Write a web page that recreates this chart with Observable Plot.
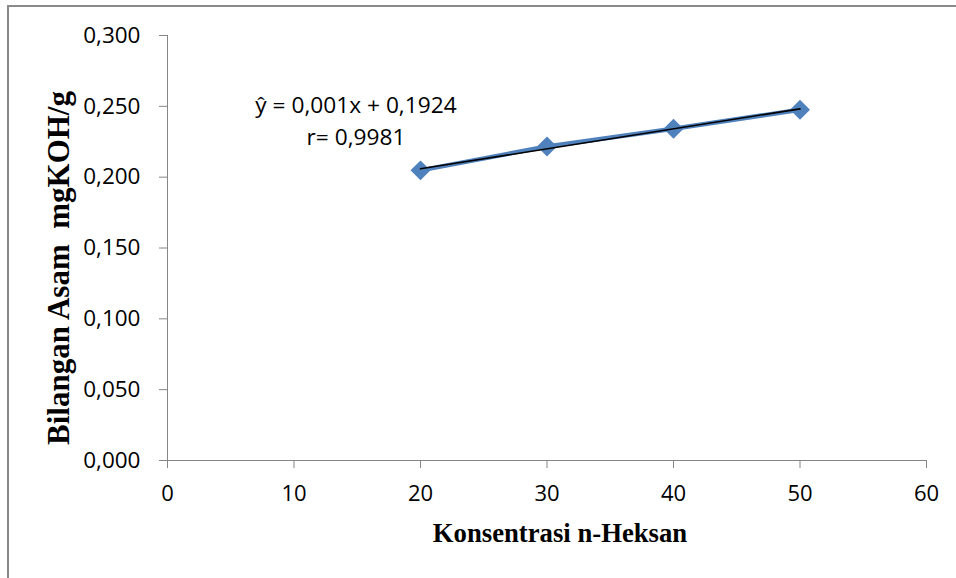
<!DOCTYPE html>
<html>
<head>
<meta charset="utf-8">
<script src="https://cdn.jsdelivr.net/npm/d3@7"></script>
<script src="https://cdn.jsdelivr.net/npm/@observablehq/plot@0.6"></script>
<style>
  html, body { margin: 0; padding: 0; background: #fff; }
  #wrap { position: relative; width: 956px; height: 578px; overflow: hidden; }
  #border { position: absolute; left: 7px; top: 5px; width: 1000px; height: 1000px;
            border-left: 2px solid #8a8a8a; border-top: 2px solid #8a8a8a; }
  #chart { position: absolute; left: 0; top: 0; }
</style>
</head>
<body>
<div id="wrap"><div id="border"></div><div id="chart"></div></div>
<script>
// Data
const concentrations = [20, 30, 40, 50];
const acidValues = [0.2048, 0.2217, 0.2342, 0.2476];
const xTicks = [0, 10, 20, 30, 40, 50, 60];
const yTicks = [0, 0.05, 0.10, 0.15, 0.20, 0.25, 0.30];
const xLabel = "Konsentrasi n-Heksan";
const yLabel = "Bilangan Asam  mgKOH/g";
const equationText = "ŷ = 0,001x + 0,1924\nr= 0,9981";
const equationAt = {x: 14.9, y: 0.2412};

const data = concentrations.map((x, i) => ({x, y: acidValues[i]}));
const fmtY = d => d3.format(".3f")(d).replace(".", ",");
const tickFont = "'Open Sans', 'Noto Sans', sans-serif";
const labelFont = "'Liberation Serif', 'DejaVu Serif', serif";
const gray = "#868686";
const blue = "#4F81BD";

const chart = Plot.plot({
  width: 956,
  height: 578,
  marginLeft: 167,
  marginRight: 30,
  marginTop: 35,
  marginBottom: 118,
  style: {color: "black", background: "transparent", fontFamily: tickFont},
  x: {domain: [0, 60]},
  y: {domain: [0, 0.3]},
  marks: [
    Plot.ruleX([0], {stroke: gray, strokeWidth: 1}),
    Plot.ruleY([0], {stroke: gray, strokeWidth: 1}),
    Plot.axisX(xTicks, {tickSize: 8, tickPadding: 17, stroke: gray, fill: "black",
      fontSize: 22, fontFamily: tickFont, label: null, tickFormat: d => String(d)}),
    Plot.axisY(yTicks, {tickSize: 8, tickPadding: 19, stroke: gray, fill: "black",
      fontSize: 22.5, fontFamily: tickFont, label: null, tickFormat: fmtY}),
    Plot.line(data, {x: "x", y: "y", stroke: blue, strokeWidth: 4.5}),
    Plot.dot(data, {x: "x", y: "y", symbol: "diamond2", r: 9, fill: blue, stroke: "none"}),
    Plot.linearRegressionY(data, {x: "x", y: "y", stroke: "black", strokeWidth: 1.6, ci: 0}),
    Plot.text([equationText], {x: () => equationAt.x, y: () => equationAt.y,
      fontSize: 22.7, fontFamily: tickFont, lineHeight: 1.4, textAnchor: "middle", fill: "black"}),
    Plot.text([xLabel], {frameAnchor: "bottom", textAnchor: "middle", lineAnchor: "bottom",
      dx: 13, dy: 81, fontSize: 26.7,
      fontWeight: "bold", fontFamily: labelFont, fill: "black"}),
    Plot.text([yLabel], {frameAnchor: "left", textAnchor: "middle", lineAnchor: "middle",
      rotate: -90, dx: -108, dy: 20, fontSize: 31,
      fontWeight: "bold", fontFamily: labelFont, fill: "black"})
  ]
});
document.getElementById("chart").appendChild(chart);
</script>
</body>
</html>
